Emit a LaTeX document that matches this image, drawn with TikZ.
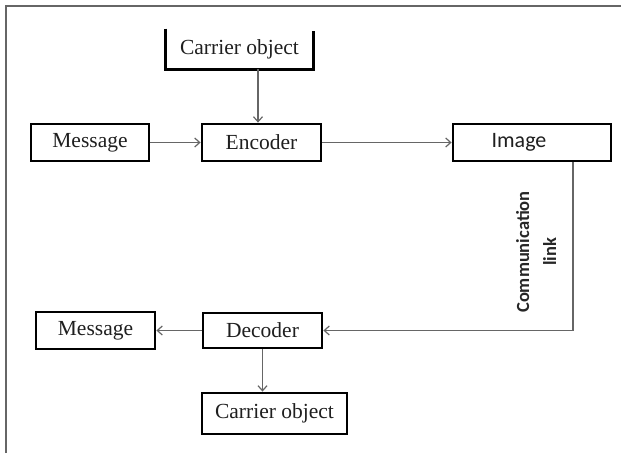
\documentclass[tikz,border=0pt]{standalone}
\usepackage{fontspec}
\setmainfont{Liberation Serif}
\newfontfamily\calib{Carlito}
\usetikzlibrary{arrows.meta,calc}
\begin{document}
\begin{tikzpicture}[x=1pt,y=-1pt,
  box/.style={draw=black,line width=2.8pt,fill=white,inner sep=0pt,text=black!88,font=\fontsize{21.5}{23}\selectfont},
  conn/.style={draw=black!60,line width=1.2pt,-{Straight Barb[length=5pt,width=9pt]}},
  frameline/.style={draw=black!60,line width=2.2pt}]
\useasboundingbox (0,0) rectangle (621,453);
% frame
\draw[frameline] (6,453) -- (6,6) -- (621,6);
% nodes
\node[box,draw=none,fill=none,minimum width=145pt,minimum height=38pt] (car1) at (239.5,49) {Carrier object};
\draw[line width=2.8pt] (car1.north west) -- (car1.south west) -- (car1.south east) -- ([yshift=-2pt]car1.north east);
\node[box,minimum width=118pt,minimum height=37pt] (msg1) at (90,142.5) {Message};
\node[box,minimum width=119pt,minimum height=37pt] (enc) at (261.5,142.5) {Encoder};
\node[box,minimum width=158pt,minimum height=37pt,font=\calib\fontsize{22}{24}\selectfont] (img) at (532,142.5) {\raisebox{-1.5pt}{Image}\hspace*{26pt}};
\node[box,minimum width=119pt,minimum height=35pt] (dec) at (262.5,330.5) {Decoder};
\node[box,minimum width=119pt,minimum height=37pt] (msg2) at (95.5,330.5) {Message};
\node[box,minimum width=145pt,minimum height=41pt] (car2) at (274.5,413.5) {Carrier object};
\node[rotate=90,align=center,font=\calib\bfseries\fontsize{18.5}{27}\selectfont,text=black!85] (comm) at (536,252) {Communication\\link};
% connectors
\draw[conn] ([xshift=18.5pt]car1.south) -- ([xshift=18.5pt]car1.south |- enc.north);
\draw[conn] (msg1.east) -- (enc.west);
\draw[conn] (enc.east) -- (img.west);
\draw[conn] ([xshift=41pt]img.south) |- (dec.east);
\draw[conn] (dec.west) -- (msg2.east);
\draw[conn] (dec.south) -- (dec.south |- car2.north);
\end{tikzpicture}
\end{document}
